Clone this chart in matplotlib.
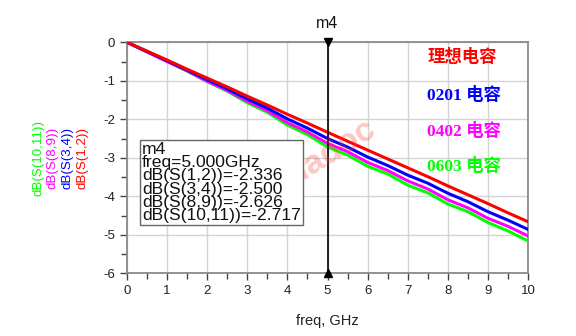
import matplotlib
matplotlib.use("Agg")
import matplotlib.pyplot as plt
from matplotlib.ticker import MultipleLocator

plt.rcParams["axes.unicode_minus"] = False
plt.rcParams["font.family"] = ["Liberation Sans", "DejaVu Sans"]

freq = [0, 0.5, 1, 1.5, 2, 2.5, 3, 3.5, 4, 4.5, 5, 5.5, 6, 6.5, 7, 7.5, 8, 8.5, 9, 9.5, 10]
s12 = [0, -0.23, -0.46, -0.70, -0.93, -1.16, -1.40, -1.63, -1.87, -2.10, -2.336,
       -2.57, -2.80, -3.03, -3.26, -3.49, -3.73, -3.96, -4.19, -4.43, -4.66]
s34 = [0, -0.24, -0.48, -0.72, -0.97, -1.21, -1.47, -1.71, -1.99, -2.23, -2.500,
       -2.72, -2.98, -3.20, -3.45, -3.66, -3.92, -4.14, -4.40, -4.62, -4.86]
s89 = [0, -0.25, -0.50, -0.74, -1.01, -1.25, -1.53, -1.78, -2.09, -2.33, -2.626,
       -2.84, -3.12, -3.33, -3.60, -3.81, -4.09, -4.30, -4.57, -4.78, -5.03]
s1011 = [0, -0.24, -0.49, -0.75, -1.02, -1.27, -1.57, -1.82, -2.15, -2.40, -2.717,
         -2.93, -3.22, -3.42, -3.71, -3.91, -4.20, -4.40, -4.68, -4.90, -5.16]

series = [("dB(S(1,2))", s12, "#ff0000", "-2.336"),
          ("dB(S(3,4))", s34, "#0000ff", "-2.500"),
          ("dB(S(8,9))", s89, "#ff00ff", "-2.626"),
          ("dB(S(10,11))", s1011, "#00ff00", "-2.717")]
legend_labels = ["理想电容", "0201 电容", "0402 电容", "0603 电容"]
marker_freq = 5.0

fig = plt.figure(figsize=(5.76, 3.36), dpi=100)
ax = fig.add_axes([0.2205, 0.1866, 0.6962, 0.6875])

for name, vals, col, _ in reversed(series):
    ax.plot(freq, vals, color=col, lw=2.2, zorder=3)

ax.set_xlim(0, 10)
ax.set_ylim(-6, 0)
ax.xaxis.set_major_locator(MultipleLocator(1))
ax.xaxis.set_minor_locator(MultipleLocator(0.5))
ax.yaxis.set_major_locator(MultipleLocator(1))
ax.yaxis.set_minor_locator(MultipleLocator(0.5))
ax.grid(True, which="major", color="#d4d4d4", lw=1.0, zorder=0)
for s in ax.spines.values():
    s.set_color("#8a8a8a")
    s.set_linewidth(1.3)
ax.tick_params(which="both", direction="out", color="#444444", width=1.0,
               labelsize=9.5, labelcolor="#222222", top=False, right=False)
ax.tick_params(which="major", length=5)
ax.tick_params(which="minor", length=4)
ax.set_xlabel("freq, GHz", fontsize=10.5, color="#222222", labelpad=12)

# marker
ax.axvline(marker_freq, color="black", lw=1.2, zorder=4)
ax.plot([marker_freq], [0], marker="v", color="black", markersize=5.5, clip_on=False, zorder=5)
ax.plot([marker_freq], [-6], marker="^", color="black", markersize=5.5, clip_on=False, zorder=5)
ax.text(marker_freq, 0.3, "m4", ha="center", va="bottom", fontsize=11.5, color="#111111")

# marker readout box
lines = ["m4", "freq=%.3fGHz" % marker_freq] + ["%s=%s" % (n, v) for n, _, _, v in series]
fig.text(0.2465, 0.578, "\n".join(lines), ha="left", va="top", fontsize=12.6,
         linespacing=0.86, color="#111111", zorder=6,
         bbox=dict(boxstyle="square,pad=0.1", fc="white", ec="#666666", lw=1.0))

# legend text
ys = [0.83, 0.717, 0.61, 0.503]
for (name, _, col, _), lab, y in zip(series, legend_labels, ys):
    fig.text(0.742, y, lab, color=col, fontsize=12.5, fontweight="bold",
             family=["Liberation Serif", "Noto Sans CJK SC"], ha="left", va="center")

# y labels
xs = [0.1435, 0.117, 0.0915, 0.066]
for (name, _, col, _), x in zip(series, xs):
    fig.text(x, 0.53, name, color=col, rotation=90, fontsize=9.6,
             ha="center", va="center")

# watermark
fig.text(0.56, 0.53, "Edadoc", color="#ff4040", alpha=0.3, fontsize=24,
         fontweight="bold", rotation=32, ha="center", va="center")

fig.savefig("out.png", dpi=100)
